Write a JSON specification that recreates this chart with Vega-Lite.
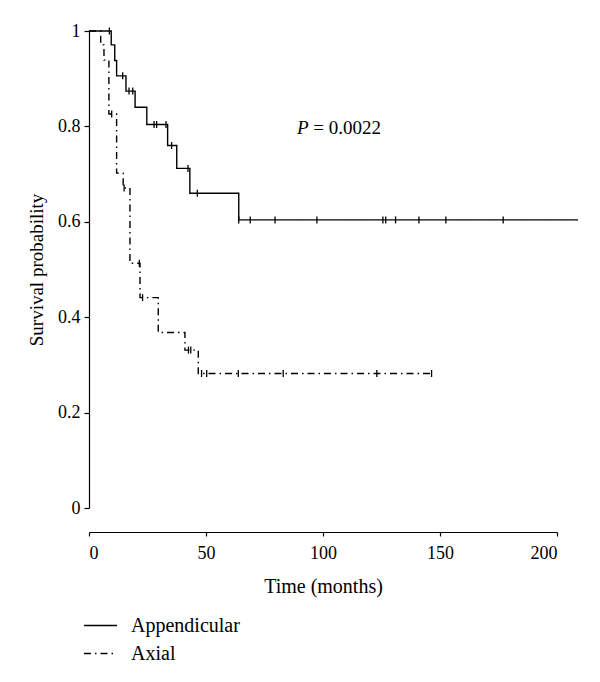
{
  "$schema": "https://vega.github.io/schema/vega-lite/v6.json",
  "width": 468,
  "height": 477,
  "autosize": {"type": "none"},
  "padding": {"left": 89, "top": 31, "right": 43, "bottom": 174},
  "background": "white",
  "config": {
    "view": {"stroke": null},
    "font": "Liberation Serif",
    "axis": {
      "grid": false,
      "domainColor": "black",
      "tickColor": "black",
      "domainWidth": 1.2,
      "tickWidth": 1.2,
      "labelColor": "black",
      "titleColor": "black",
      "labelFont": "Liberation Serif",
      "titleFont": "Liberation Serif",
      "labelFontSize": 18,
      "titleFontSize": 19,
      "titleFontWeight": "normal"
    }
  },
  "datasets": {
    "km": [
      {"group": "Appendicular", "t": 0, "s": 1},
      {"group": "Appendicular", "t": 9.5, "s": 0.971},
      {"group": "Appendicular", "t": 11, "s": 0.938},
      {"group": "Appendicular", "t": 11.8, "s": 0.906},
      {"group": "Appendicular", "t": 15.8, "s": 0.874},
      {"group": "Appendicular", "t": 19.7, "s": 0.84},
      {"group": "Appendicular", "t": 24.7, "s": 0.804},
      {"group": "Appendicular", "t": 33.6, "s": 0.76},
      {"group": "Appendicular", "t": 37.5, "s": 0.712},
      {"group": "Appendicular", "t": 43.1, "s": 0.66},
      {"group": "Appendicular", "t": 64, "s": 0.604},
      {"group": "Appendicular", "t": 209, "s": 0.604},
      {"group": "Axial", "t": 0, "s": 1},
      {"group": "Axial", "t": 5, "s": 0.971},
      {"group": "Axial", "t": 6.4, "s": 0.939},
      {"group": "Axial", "t": 8.5, "s": 0.826},
      {"group": "Axial", "t": 11.8, "s": 0.702},
      {"group": "Axial", "t": 14.6, "s": 0.671},
      {"group": "Axial", "t": 17.5, "s": 0.513},
      {"group": "Axial", "t": 21.8, "s": 0.441},
      {"group": "Axial", "t": 29.6, "s": 0.368},
      {"group": "Axial", "t": 41, "s": 0.331},
      {"group": "Axial", "t": 46.7, "s": 0.282},
      {"group": "Axial", "t": 146.4, "s": 0.282}
    ],
    "censor": [
      {"group": "Appendicular", "t": 8.7, "s": 1},
      {"group": "Appendicular", "t": 14.4, "s": 0.906},
      {"group": "Appendicular", "t": 17.1, "s": 0.874},
      {"group": "Appendicular", "t": 18.7, "s": 0.874},
      {"group": "Appendicular", "t": 27.8, "s": 0.804},
      {"group": "Appendicular", "t": 28.9, "s": 0.804},
      {"group": "Appendicular", "t": 32.9, "s": 0.804},
      {"group": "Appendicular", "t": 35.3, "s": 0.76},
      {"group": "Appendicular", "t": 42.3, "s": 0.712},
      {"group": "Appendicular", "t": 46.3, "s": 0.66},
      {"group": "Appendicular", "t": 64, "s": 0.604},
      {"group": "Appendicular", "t": 68.9, "s": 0.604},
      {"group": "Appendicular", "t": 79.5, "s": 0.604},
      {"group": "Appendicular", "t": 97.4, "s": 0.604},
      {"group": "Appendicular", "t": 125.6, "s": 0.604},
      {"group": "Appendicular", "t": 126.8, "s": 0.604},
      {"group": "Appendicular", "t": 131, "s": 0.604},
      {"group": "Appendicular", "t": 141, "s": 0.604},
      {"group": "Appendicular", "t": 152.5, "s": 0.604},
      {"group": "Appendicular", "t": 177, "s": 0.604},
      {"group": "Axial", "t": 9.7, "s": 0.826},
      {"group": "Axial", "t": 15, "s": 0.671},
      {"group": "Axial", "t": 21.5, "s": 0.513},
      {"group": "Axial", "t": 22.9, "s": 0.441},
      {"group": "Axial", "t": 42.5, "s": 0.331},
      {"group": "Axial", "t": 43.5, "s": 0.331},
      {"group": "Axial", "t": 48.1, "s": 0.282},
      {"group": "Axial", "t": 50.3, "s": 0.282},
      {"group": "Axial", "t": 63.8, "s": 0.282},
      {"group": "Axial", "t": 83, "s": 0.282},
      {"group": "Axial", "t": 123, "s": 0.282},
      {"group": "Axial", "t": 146.4, "s": 0.282}
    ],
    "ptext": [
      {"label": "P", "t": 88.9, "s": 0.797}
    ],
    "vtext": [
      {"label": "= 0.0022", "t": 95.8, "s": 0.797}
    ]
  },
  "layer": [
    {
      "data": {"name": "km"},
      "mark": {"type": "line", "interpolate": "step-after", "color": "black", "strokeWidth": 1.4},
      "encoding": {
        "x": {
          "field": "t", "type": "quantitative",
          "scale": {"domain": [0, 200], "nice": false, "zero": false},
          "axis": {"values": [0, 50, 100, 150, 200], "format": "d", "title": "Time (months)", "titleFontSize": 20, "offset": 24, "tickSize": 4, "labelPadding": 8, "titlePadding": 14}
        },
        "y": {
          "field": "s", "type": "quantitative",
          "scale": {"domain": [0, 1], "nice": false},
          "axis": {"values": [0, 0.2, 0.4, 0.6, 0.8, 1], "format": "~g", "title": "Survival probability", "tickSize": 5, "labelPadding": 4, "titlePadding": 11}
        },
        "strokeDash": {
          "field": "group", "type": "nominal",
          "scale": {"domain": ["Appendicular", "Axial"], "range": [[1, 0], [7, 4, 1.5, 4]]},
          "legend": {
            "orient": "none", "legendX": -6, "legendY": 577, "title": null,
            "symbolType": "stroke", "symbolSize": 1089, "symbolStrokeColor": "black", "symbolStrokeWidth": 1.3,
            "labelFont": "Liberation Serif", "labelFontSize": 20, "labelColor": "black", "labelOffset": 13, "rowPadding": -3
          }
        }
      }
    },
    {
      "data": {"name": "censor"},
      "mark": {"type": "point", "shape": "M0,-1L0,1", "size": 49, "stroke": "black", "strokeWidth": 1.3, "filled": false, "opacity": 1},
      "encoding": {
        "x": {"field": "t", "type": "quantitative"},
        "y": {"field": "s", "type": "quantitative"}
      }
    },
    {
      "data": {"name": "ptext"},
      "mark": {"type": "text", "font": "Liberation Serif", "fontStyle": "italic", "fontSize": 19, "align": "left", "baseline": "middle", "color": "black"},
      "encoding": {
        "x": {"field": "t", "type": "quantitative"},
        "y": {"field": "s", "type": "quantitative"},
        "text": {"field": "label"}
      }
    },
    {
      "data": {"name": "vtext"},
      "mark": {"type": "text", "font": "Liberation Serif", "fontSize": 19, "align": "left", "baseline": "middle", "color": "black"},
      "encoding": {
        "x": {"field": "t", "type": "quantitative"},
        "y": {"field": "s", "type": "quantitative"},
        "text": {"field": "label"}
      }
    }
  ]
}
